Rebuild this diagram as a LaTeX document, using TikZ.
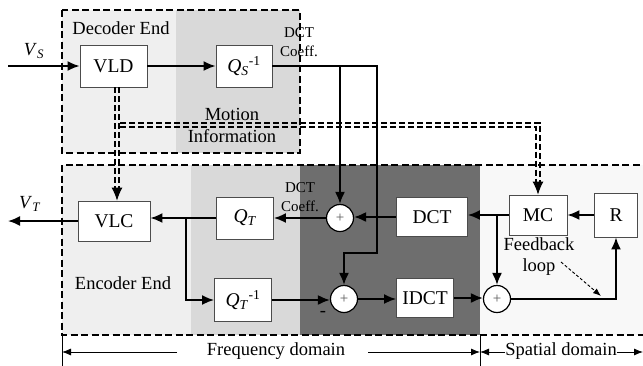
\documentclass[tikz,border=0pt]{standalone}
\usepackage{fontspec}
\setmainfont{Liberation Serif}
\usetikzlibrary{arrows.meta,calc}
\definecolor{gA}{HTML}{EFEFEF}
\definecolor{gB}{HTML}{D9D9D9}
\definecolor{gC}{HTML}{6E6E6E}
\definecolor{gD}{HTML}{F8F8F8}
\begin{document}
\begin{tikzpicture}[x=1pt,y=-1pt,
  font=\fontsize{18.5}{21}\selectfont,
  blk/.style={draw=black!70,line width=0.9pt,fill=white,inner sep=0pt,font=\fontsize{19.5}{21}\selectfont},
  sumn/.style={circle,draw=black,line width=1.2pt,fill=white,minimum size=27pt,inner sep=0pt,font=\fontsize{15}{15}\selectfont\color{black!65}},
  sig/.style={line width=1.8pt,-{Latex[length=12pt,width=10pt]}},
  mline/.style={line width=1.8pt,dash pattern=on 6pt off 3pt},
  mtip/.style={line width=1pt,-{Latex[length=13pt,width=11pt]}},
  bord/.style={line width=1.2pt,dash pattern=on 7pt off 3.5pt},
  small/.style={inner sep=0pt,font=\fontsize{15}{19}\selectfont,align=center},
  dom/.style={line width=0.8pt,-{Latex[length=9pt,width=7pt]}},
  txt/.style={inner sep=0pt}
]
\useasboundingbox (0,0) rectangle (643,365);
% backgrounds
\fill[gA] (62,10) rectangle (176,153);
\fill[gB] (176,10) rectangle (300,153);
\fill[gA] (62,165) rectangle (191,335);
\fill[gB] (191,165) rectangle (300,335);
\fill[gC] (300,165) rectangle (480,335);
\fill[gD] (480,165) rectangle (643,335);
\draw[bord] (62,10) rectangle (300,153);
\draw[bord] (650,165) -- (62,165) -- (62,335) -- (650,335);

% blocks
\node[blk,minimum width=67pt,minimum height=42pt] (VLD) at (113.5,66) {VLD};
\node[blk,minimum width=56pt,minimum height=42pt] (QS) at (244,66) {\textit{Q}\textsubscript{\textit{S}}\textsuperscript{-1}};
\node[blk,minimum width=72pt,minimum height=40pt] (VLC) at (114,221) {VLC};
\node[blk,minimum width=57pt,minimum height=42pt] (QT) at (245,218) {\textit{Q}\textsubscript{\textit{T}}};
\node[blk,minimum width=57pt,minimum height=43pt] (QTI) at (243,300) {\textit{Q}\textsubscript{\textit{T}}\textsuperscript{-1}};
\node[blk,minimum width=71pt,minimum height=39pt] (DCT) at (432,217) {DCT};
\node[blk,minimum width=57pt,minimum height=39pt] (IDCT) at (425,298) {IDCT};
\node[blk,minimum width=58pt,minimum height=40pt] (MC) at (538,215) {MC};
\node[blk,minimum width=43pt,minimum height=44pt] (R) at (616,215) {R};
\node[sumn] (S1) at (340,218) {+};
\node[sumn] (S2) at (344,299) {+};
\node[sumn] (S3) at (497,299) {+};

% coordinates
\coordinate (vs) at (8,66);
\coordinate (vt) at (8,221);
\coordinate (c1) at (377,66);
\coordinate (c2) at (377,253);
\coordinate (j2) at (186,218);
\coordinate (mx) at (117,125);
\coordinate (mk) at (mx -| MC.north);
\coordinate (fbA) at (561,262);
\coordinate (fbB) at (601,296);

% motion information (double dashed)
\draw[mline] ($(VLD.south -| mx)+(-1.8,0)$) -- ($(VLC.north -| mx)+(-1.8,-11)$);
\draw[mline] ($(VLD.south -| mx)+(1.8,0)$) -- ($(VLC.north -| mx)+(1.8,-11)$);
\draw[mtip] ($(VLC.north -| mx)+(0,-13)$) -- (VLC.north -| mx);
\draw[mline] ($(mx)+(3,-1.8)$) -- ($(mk)+(1.8,-1.8)$) -- ($(MC.north)+(1.8,-11)$);
\draw[mline] ($(mx)+(3,1.8)$) -- ($(mk)+(-1.8,1.8)$) -- ($(MC.north)+(-1.8,-11)$);
\draw[mtip] ($(MC.north)+(0,-13)$) -- (MC.north);

% signal connectors
\draw[sig] (vs) -- (VLD.west);
\draw[sig] (VLD) -- (QS);
\draw[sig] (QS.east) -- (c1) -- (c2) -- (c2 -| S2.north) -- (S2.north);
\draw[sig] (S1.north |- QS.east) -- (S1.north);
\draw[sig] (DCT.west) -- (DCT.west -| S1.east);
\draw[sig] (S1.west) -- (S1.west -| QT.east);
\draw[sig] (QT.west) -- (QT.west -| VLC.east);
\draw[sig] (j2) |- (QTI.west);
\draw[sig] (VLC.west) -- (vt);
\draw[sig] (QTI.east) -- (QTI.east -| S2.west);
\draw[sig] (S2.east) -- (S2.east -| IDCT.west);
\draw[sig] (IDCT.east) -- (IDCT.east -| S3.west);
\draw[sig] (R.west) -- (R.west -| MC.east);
\draw[sig] (MC.west) -- (MC.west -| DCT.east);
\draw[sig] (S3.north |- MC.west) -- (S3.north);
\draw[sig] (S3.east) -| (R.south);
\draw[line width=0.9pt,dash pattern=on 3pt off 2pt,-{Latex[length=8pt,width=6pt]}] (fbA) -- (fbB);

% labels
\node[txt] (lvs) at (34,51) {\textit{V}\textsubscript{\textit{S}}};
\node[txt] (lvt) at (30,204) {\textit{V}\textsubscript{\textit{T}}};
\node[txt] (dec) at (121,28) {Decoder End};
\node[txt] (enc) at (123,283) {Encoder End};
\node[txt] (mot1) at (232,114) {Motion};
\node[txt] (mot2) at (232,136) {Information};
\node[small] (dct1) at (299,42) {DCT\\Coeff.};
\node[small] (dct2) at (300,197) {DCT\\Coeff.};
\node[txt,align=center,font=\fontsize{18.5}{21}\selectfont] (fbk) at (539,257) {Feedback\\loop};
\node[txt] (minus) at (323,314) {-};

% domain axis
\draw[line width=0.8pt] (62,335) -- (62,366);
\draw[line width=0.8pt] (480,335) -- (480,366);
\node[txt] (freq) at (276,351) {Frequency domain};
\node[txt] (spat) at (561,351) {Spatial domain};
\coordinate (fa) at (177,352);
\coordinate (fbb) at (368,352);
\coordinate (fl) at (62,352);
\coordinate (fr) at (480,352);
\coordinate (sr) at (643,352);
\draw[dom] (fa) -- (fl);
\draw[dom] (fbb) -- (fr);
\draw[dom] (spat.west |- fr) -- (fr);
\draw[dom] (spat.east |- sr) -- (sr);
\end{tikzpicture}
\end{document}
